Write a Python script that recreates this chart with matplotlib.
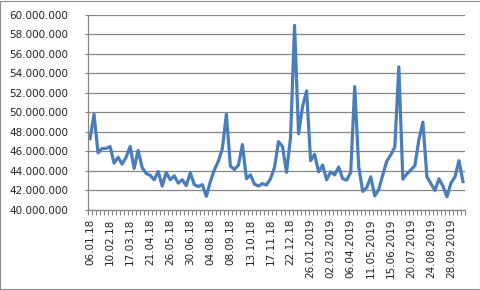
import matplotlib
matplotlib.use("Agg")
import matplotlib.pyplot as plt
from matplotlib.patches import Rectangle
from matplotlib.ticker import FuncFormatter, MultipleLocator

# weekly values in millions
values = [
    47.3, 49.8, 45.85, 46.3, 46.3, 46.5, 44.8, 45.4, 44.7, 45.4,
    46.5, 44.25, 46.1, 44.35, 43.75, 43.55, 43.1, 43.95, 42.45, 43.85,
    43.1, 43.5, 42.75, 43.1, 42.5, 43.8, 42.6, 42.4, 42.6, 41.4,
    42.9, 44.1, 45.0, 46.3, 49.8, 44.5, 44.15, 44.6, 46.7, 43.2,
    43.6, 42.65, 42.45, 42.7, 42.55, 43.2, 44.35, 47.0, 46.5, 43.85,
    47.4, 58.9, 47.8, 50.6, 52.2, 45.05, 45.7, 43.9, 44.6, 43.1,
    43.9, 43.6, 44.4, 43.2, 43.06, 43.85, 52.65, 44.4, 41.9, 42.3,
    43.4, 41.45, 42.1, 43.6, 45.0, 45.65, 46.45, 54.65, 43.15, 43.7,
    44.1, 44.55, 47.2, 49.0, 43.4, 42.7, 42.0, 43.2, 42.45, 41.35,
    42.75, 43.4, 45.05, 42.9,
]
values = [v * 1e6 for v in values]

tick_labels = [
    "06.01.18", "10.02.18", "17.03.18", "21.04.18", "26.05.18",
    "30.06.18", "04.08.18", "08.09.18", "13.10.18", "17.11.18",
    "22.12.18", "26.01.2019", "02.03.2019", "06.04.2019", "11.05.2019",
    "15.06.2019", "20.07.2019", "24.08.2019", "28.09.2019",
]

fig = plt.figure(figsize=(4.81, 2.90), dpi=100)
ax = fig.add_axes([88 / 481, 1 - 210 / 290, (465 - 88) / 481, (210 - 14.7) / 290])

x = list(range(len(values)))
ax.plot(x, values, color="#4A7EBB", lw=2.3, solid_joinstyle="round")

ax.set_xlim(-0.5, len(values) - 0.5)
ax.set_ylim(40e6, 60e6)
ax.yaxis.set_major_locator(MultipleLocator(2e6))
ax.yaxis.set_major_formatter(FuncFormatter(lambda v, p: f"{int(v):,}".replace(",", ".")))
ax.grid(axis="y", color="#868686", lw=0.9)
ax.set_axisbelow(True)

ax.set_xticks(x[::5])
ax.set_xticklabels(tick_labels, rotation=90, va="top", ha="center")
ax.set_xticks([i - 0.5 for i in range(len(values) + 1)], minor=True)
ax.tick_params(axis="x", which="major", length=0, pad=6, labelsize=7.5, labelcolor="#222222")
ax.tick_params(axis="x", which="minor", length=3.5, color="#868686", width=0.8)
ax.tick_params(axis="y", length=2, color="#868686", labelsize=7.5, labelcolor="#222222", pad=12)

for s in ["top", "right"]:
    ax.spines[s].set_visible(False)
for s in ["left", "bottom"]:
    ax.spines[s].set_color("#868686")
    ax.spines[s].set_linewidth(0.9)

fig.patches.append(Rectangle((0.001, 0.002), 0.997, 0.995, transform=fig.transFigure,
                             fill=False, edgecolor="#8C8C8C", lw=0.8))

fig.savefig("out.png", dpi=100)
